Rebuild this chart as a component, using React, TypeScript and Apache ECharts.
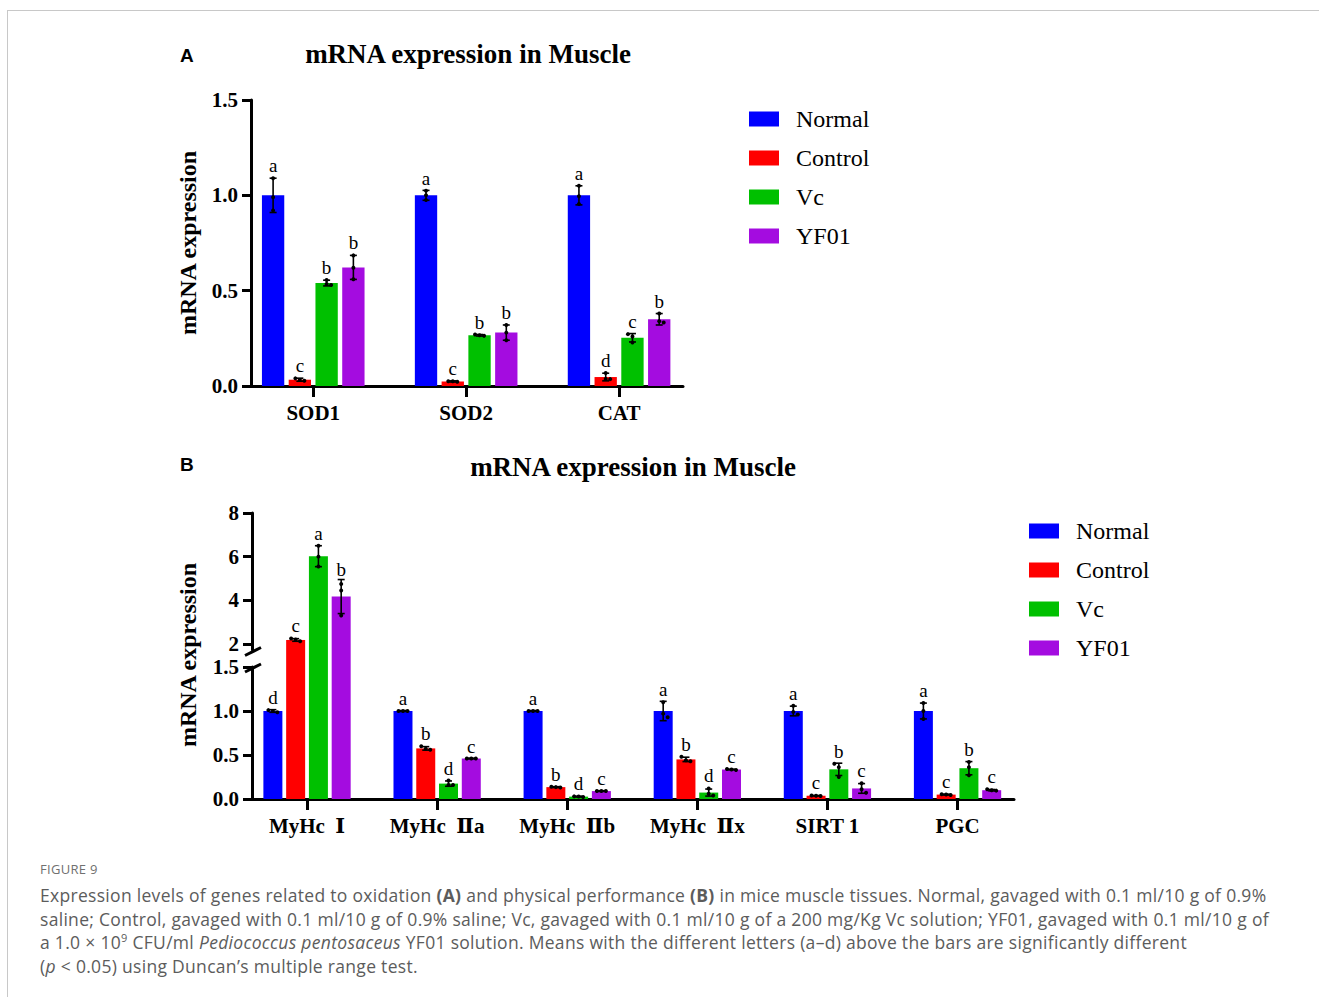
import React, { useEffect, useRef } from 'react';
import * as echarts from 'echarts';

// ---------- data ----------
const GROUPS = ['Normal', 'Control', 'Vc', 'YF01'];
const COLORS = ['#0000FF', '#FF0000', '#00C000', '#A40CE0'];

// Panel A
const CATS_A = ['SOD1', 'SOD2', 'CAT'];
const A_MEANS = [
  [1.0, 1.0, 1.0],
  [0.033, 0.024, 0.047],
  [0.54, 0.266, 0.253],
  [0.622, 0.28, 0.35],
];
const A_SD = [
  [0.09, 0.026, 0.05],
  [0.008, 0.003, 0.02],
  [0.015, 0.004, 0.022],
  [0.063, 0.04, 0.03],
];
const A_POINTS = [
  [[1.09, 0.99, 0.92], [1.024, 1.0, 0.975], [1.05, 0.995, 0.955]],
  [[0.04, 0.032, 0.027], [0.025, 0.025, 0.022], [0.068, 0.037, 0.036]],
  [[0.556, 0.535, 0.53], [0.27, 0.266, 0.263], [0.272, 0.26, 0.228]],
  [[0.685, 0.62, 0.56], [0.32, 0.28, 0.24], [0.38, 0.34, 0.333]],
];
const A_SIG = [
  ['a', 'a', 'a'],
  ['c', 'c', 'd'],
  ['b', 'b', 'c'],
  ['b', 'b', 'b'],
];

// Panel B
const CATS_B = ['MyHc\u00a0\u00a0Ⅰ', 'MyHc\u00a0\u00a0Ⅱa', 'MyHc\u00a0\u00a0Ⅱb', 'MyHc\u00a0\u00a0Ⅱx', 'SIRT 1', 'PGC'];
const B_MEANS = [
  [1.0, 1.0, 1.0, 1.0, 1.0, 1.0],
  [2.18, 0.575, 0.135, 0.45, 0.037, 0.05],
  [6.02, 0.175, 0.027, 0.073, 0.337, 0.35],
  [4.17, 0.46, 0.09, 0.335, 0.12, 0.1],
];
const B_SD = [
  [0.015, 0.005, 0.005, 0.11, 0.055, 0.09],
  [0.06, 0.02, 0.005, 0.025, 0.003, 0.005],
  [0.48, 0.03, 0.005, 0.04, 0.07, 0.075],
  [0.78, 0.004, 0.004, 0.004, 0.055, 0.008],
];
const B_POINTS = [
  [[1.01, 1.0, 0.985], [1.0, 1.0, 1.0], [1.0, 1.0, 1.0], [1.1, 0.97, 0.93], [1.06, 0.99, 0.96], [1.09, 1.0, 0.91]],
  [[2.25, 2.2, 2.12], [0.6, 0.57, 0.56], [0.14, 0.135, 0.13], [0.48, 0.44, 0.43], [0.04, 0.037, 0.035], [0.055, 0.05, 0.046]],
  [[6.5, 6.0, 5.55], [0.21, 0.16, 0.16], [0.03, 0.028, 0.022], [0.12, 0.06, 0.04], [0.4, 0.36, 0.25], [0.42, 0.36, 0.27]],
  [[4.75, 4.45, 3.3], [0.46, 0.46, 0.46], [0.09, 0.09, 0.09], [0.34, 0.335, 0.33], [0.18, 0.11, 0.07], [0.11, 0.1, 0.095]],
];
const B_SIG = [
  ['d', 'a', 'a', 'a', 'a', 'a'],
  ['c', 'b', 'b', 'b', 'c', 'c'],
  ['a', 'd', 'd', 'd', 'b', 'b'],
  ['b', 'c', 'c', 'c', 'c', 'c'],
];

const Y_TICKS_LOWER = [0, 0.5, 1.0, 1.5];
const Y_TICKS_UPPER = [2, 4, 6, 8];

// ---------- style constants ----------
const BAR_W = 0.146; // in category units
const PITCH = 0.175;
const LOWER_MAX = 1.5;
const UPPER_MIN = 1.72;
const UPPER_JOIN = 0.94; // value on upper scale that meets the top of the lower grid
const SERIF = '"Liberation Serif", "Times New Roman", "DejaVu Serif", "Noto Sans CJK SC", serif';
const AXIS_COLOR = '#000';

function makeRender(gi: number, sd: number[], pts: number[][], sig: string[], mode: 'single' | 'lower' | 'upper') {
  return (params: any, api: any) => {
    const i = params.dataIndex;
    const cx = api.value(0) + (gi - 1.5) * PITCH;
    const mean = api.value(1);
    if (mode === 'upper' && mean <= LOWER_MAX) return { type: 'group', children: [] };
    const unit = api.size([1, 0])[0];
    const w = BAR_W * unit;
    const topV = mode === 'lower' ? Math.min(mean, LOWER_MAX) : mean;
    const baseV = mode === 'upper' ? UPPER_JOIN : 0;
    const top = api.coord([cx, topV]);
    const base = api.coord([cx, baseV]);
    const children: any[] = [
      {
        type: 'rect',
        shape: { x: top[0] - w / 2, y: top[1], width: w, height: base[1] - top[1] },
        style: { fill: COLORS[gi] },
      },
    ];
    const details = !(mode === 'lower' && mean > LOWER_MAX);
    if (details) {
      const x = top[0];
      const hi = api.coord([cx, mean + sd[i]])[1];
      const lo = api.coord([cx, Math.max(0, mean - sd[i])])[1];
      const cap = 3.5;
      const ls = { stroke: '#000', lineWidth: 1.6 };
      children.push({ type: 'line', shape: { x1: x, y1: hi, x2: x, y2: lo }, style: ls });
      children.push({ type: 'line', shape: { x1: x - cap, y1: hi, x2: x + cap, y2: hi }, style: ls });
      children.push({ type: 'line', shape: { x1: x - cap, y1: lo, x2: x + cap, y2: lo }, style: ls });
      const py = pts[i].map((v) => api.coord([cx, v])[1]);
      let minY = hi;
      py.forEach((y, j) => {
        const near = py.some((q, k) => k !== j && Math.abs(q - y) < 4);
        const off = near ? (j - 1) * 4.5 : 0;
        children.push({ type: 'circle', shape: { cx: x + off, cy: y, r: 2 }, style: { fill: '#000' } });
        minY = Math.min(minY, y - 2);
      });
      children.push({
        type: 'text',
        x,
        y: minY - 1,
        style: {
          text: sig[i],
          fill: '#000',
          font: `19px ${SERIF}`,
          align: 'center',
          verticalAlign: 'bottom',
        },
      });
    }
    return { type: 'group', children };
  };
}

const axisLineStyle = { color: AXIS_COLOR, width: 3 };
const tickLabelStyle = { fontFamily: SERIF, fontWeight: 'bold' as const, fontSize: 21, color: '#000' };
const catLabelStyle = { fontFamily: SERIF, fontWeight: 'bold' as const, fontSize: 21, color: '#000' };

function buildOption() {
  const series: any[] = [];
  GROUPS.forEach((g, gi) => {
    series.push({
      type: 'custom',
      name: g,
      xAxisIndex: 0,
      yAxisIndex: 0,
      clip: false,
      itemStyle: { color: COLORS[gi] },
      renderItem: makeRender(gi, A_SD[gi], A_POINTS[gi], A_SIG[gi], 'single'),
      encode: { x: 0, y: 1 },
      data: CATS_A.map((_, ci) => [ci, A_MEANS[gi][ci]]),
    });
  });
  GROUPS.forEach((g, gi) => {
    series.push({
      type: 'custom',
      name: g,
      xAxisIndex: 1,
      yAxisIndex: 1,
      clip: false,
      itemStyle: { color: COLORS[gi] },
      renderItem: makeRender(gi, B_SD[gi], B_POINTS[gi], B_SIG[gi], 'lower'),
      encode: { x: 0, y: 1 },
      data: CATS_B.map((_, ci) => [ci, B_MEANS[gi][ci]]),
    });
    series.push({
      type: 'custom',
      name: g,
      xAxisIndex: 2,
      yAxisIndex: 2,
      clip: false,
      itemStyle: { color: COLORS[gi] },
      renderItem: makeRender(gi, B_SD[gi], B_POINTS[gi], B_SIG[gi], 'upper'),
      encode: { x: 0, y: 1 },
      data: CATS_B.map((_, ci) => [ci, B_MEANS[gi][ci]]),
    });
  });

  const legendBase = {
    data: GROUPS,
    orient: 'vertical',
    icon: 'rect',
    itemWidth: 30,
    itemHeight: 15,
    itemGap: 15,
    selectedMode: false,
    padding: 0,
    textStyle: { fontFamily: SERIF, fontSize: 24, color: '#000', padding: [0, 0, 0, 12] },
  };

  const yLower = (gridIndex: number) => ({
    type: 'value',
    gridIndex,
    min: 0,
    max: 1.5,
    interval: 0.5,
    axisLine: { show: true, onZero: false, lineStyle: axisLineStyle },
    axisTick: { show: true, length: 9, lineStyle: axisLineStyle, customValues: Y_TICKS_LOWER },
    axisLabel: { ...tickLabelStyle, margin: 13, customValues: Y_TICKS_LOWER, formatter: (v: number) => v.toFixed(1) },
    splitLine: { show: false },
  });

  return {
    animation: false,
    backgroundColor: 'transparent',
    title: [
      {
        text: 'mRNA expression in Muscle',
        left: 468,
        top: 40,
        textAlign: 'center',
        padding: 0,
        textStyle: { fontFamily: SERIF, fontWeight: 'bold', fontSize: 27, color: '#000' },
      },
      {
        text: 'mRNA expression in Muscle',
        left: 633,
        top: 453,
        textAlign: 'center',
        padding: 0,
        textStyle: { fontFamily: SERIF, fontWeight: 'bold', fontSize: 27, color: '#000' },
      },
      {
        text: 'A',
        left: 180,
        top: 46,
        padding: 0,
        textStyle: { fontFamily: '"Liberation Sans", Arial, sans-serif', fontWeight: 'bold', fontSize: 19, color: '#000' },
      },
      {
        text: 'B',
        left: 180,
        top: 455,
        padding: 0,
        textStyle: { fontFamily: '"Liberation Sans", Arial, sans-serif', fontWeight: 'bold', fontSize: 19, color: '#000' },
      },
    ],
    legend: [
      { ...legendBase, left: 749, top: 107 },
      { ...legendBase, left: 1029, top: 519 },
    ],
    grid: [
      { left: 251, top: 100, width: 432, height: 286 },
      { left: 252, top: 667, width: 762, height: 132 },
      { left: 252, top: 513, width: 762, height: 137 },
    ],
    xAxis: [
      {
        type: 'value',
        gridIndex: 0,
        min: -0.407,
        max: 2.418,
        axisLine: { show: true, onZero: false, lineStyle: axisLineStyle },
        axisTick: { show: true, length: 11, lineStyle: axisLineStyle, customValues: [0, 1, 2] },
        axisLabel: { ...catLabelStyle, margin: 16, customValues: [0, 1, 2], formatter: (v: number) => CATS_A[Math.round(v)] },
        splitLine: { show: false },
      },
      {
        type: 'value',
        gridIndex: 1,
        min: -0.423,
        max: 5.434,
        axisLine: { show: true, onZero: false, lineStyle: axisLineStyle },
        axisTick: { show: true, length: 11, lineStyle: axisLineStyle, customValues: [0, 1, 2, 3, 4, 5] },
        axisLabel: {
          ...catLabelStyle,
          margin: 16,
          customValues: [0, 1, 2, 3, 4, 5],
          formatter: (v: number) => CATS_B[Math.round(v)],
        },
        splitLine: { show: false },
      },
      {
        type: 'value',
        gridIndex: 2,
        min: -0.423,
        max: 5.434,
        show: false,
        splitLine: { show: false },
      },
    ],
    yAxis: [
      yLower(0),
      yLower(1),
      {
        type: 'value',
        gridIndex: 2,
        min: UPPER_MIN,
        max: 8,
        axisLine: { show: true, onZero: false, lineStyle: axisLineStyle },
        axisTick: { show: true, length: 9, lineStyle: axisLineStyle, customValues: Y_TICKS_UPPER },
        axisLabel: { ...tickLabelStyle, margin: 13, customValues: Y_TICKS_UPPER, formatter: (v: number) => String(v) },
        splitLine: { show: false },
      },
    ],
    graphic: [
      {
        type: 'text',
        x: 188,
        y: 243,
        rotation: Math.PI / 2,
        style: {
          text: 'mRNA expression',
          font: `bold 24px ${SERIF}`,
          fill: '#000',
          align: 'center',
          verticalAlign: 'middle',
        },
      },
      {
        type: 'text',
        x: 188,
        y: 655,
        rotation: Math.PI / 2,
        style: {
          text: 'mRNA expression',
          font: `bold 24px ${SERIF}`,
          fill: '#000',
          align: 'center',
          verticalAlign: 'middle',
        },
      },
      {
        type: 'line',
        shape: { x1: 245, y1: 655.5, x2: 261, y2: 647.5 },
        style: { stroke: '#000', lineWidth: 3 },
      },
      {
        type: 'line',
        shape: { x1: 245, y1: 672, x2: 261, y2: 664 },
        style: { stroke: '#000', lineWidth: 3 },
      },
    ],
    series,
  };
}

export default function App() {
  const ref = useRef<HTMLDivElement>(null);
  useEffect(() => {
    if (!ref.current) return;
    const chart = echarts.init(ref.current, null, { renderer: 'svg' });
    chart.setOption(buildOption() as any);
    return () => chart.dispose();
  }, []);
  const capFont = '"Open Sans", "Noto Sans", sans-serif';
  return (
    <div style={{ position: 'fixed', left: 0, top: 0, width: 1319, height: 997, background: '#fff', overflow: 'hidden' }}>
      <div ref={ref} style={{ position: 'absolute', left: 0, top: 0, width: 1319, height: 850 }} />
      <div
        style={{
          position: 'absolute',
          left: 7,
          top: 10,
          width: 1320,
          height: 1000,
          borderTop: '1px solid #c8c8c8',
          borderLeft: '1px solid #c8c8c8',
          pointerEvents: 'none',
        }}
      />
      <div
        style={{
          position: 'absolute',
          left: 40,
          top: 860,
          fontFamily: capFont,
          fontSize: 13,
          lineHeight: '18px',
          color: '#707070',
          letterSpacing: '0.3px',
        }}
      >
        FIGURE 9
      </div>
      <div
        style={{
          position: 'absolute',
          left: 40,
          top: 884,
          fontFamily: capFont,
          fontSize: 17.5,
          lineHeight: '23.7px',
          letterSpacing: '0.3px',
          color: '#5c5c5c',
          whiteSpace: 'nowrap',
        }}
      >
        <div>
          Expression levels of genes related to oxidation <b>(A)</b> and physical performance <b>(B)</b> in mice muscle
          tissues. Normal, gavaged with 0.1 ml/10 g of 0.9%
        </div>
        <div>
          saline; Control, gavaged with 0.1 ml/10 g of 0.9% saline; Vc, gavaged with 0.1 ml/10 g of a 200 mg/Kg Vc
          solution; YF01, gavaged with 0.1 ml/10 g of
        </div>
        <div>
          a 1.0 × 10<sup style={{ fontSize: 11, lineHeight: 0 }}>9</sup> CFU/ml <i>Pediococcus pentosaceus</i> YF01
          solution. Means with the different letters (a–d) above the bars are significantly different
        </div>
        <div>
          (<i>p</i> &lt; 0.05) using Duncan’s multiple range test.
        </div>
      </div>
    </div>
  );
}
